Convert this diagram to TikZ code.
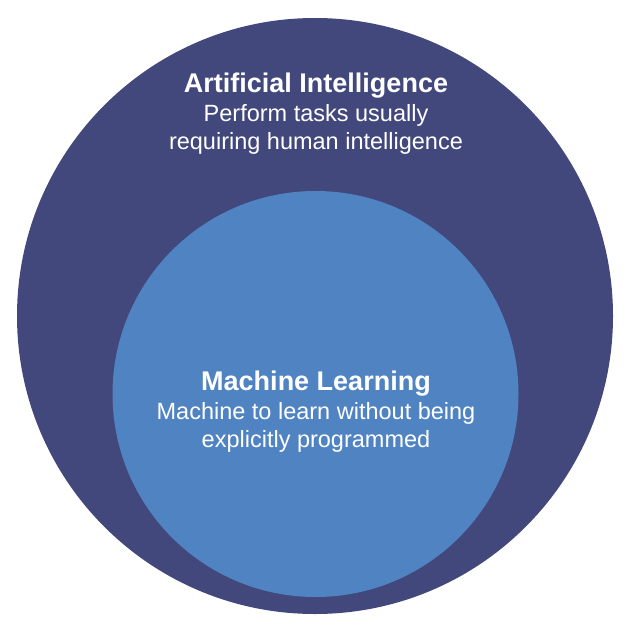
\documentclass[tikz,border=0pt]{standalone}
\usepackage{fontspec}
\setmainfont{Liberation Sans}
\usepackage{xcolor}
\usetikzlibrary{positioning}

\definecolor{aicolor}{RGB}{66,72,124}
\definecolor{mlcolor}{RGB}{80,131,194}

\begin{document}
\begin{tikzpicture}[
    x=1pt, y=-1pt,
    disc/.style={circle, draw=none, inner sep=0pt},
    title/.style={text=white, font=\fontsize{27}{30}\selectfont\bfseries, align=center, inner sep=0pt},
    desc/.style={text=white, font=\fontsize{23.5}{28}\selectfont, align=center, inner sep=0pt}
]
\useasboundingbox (0,0) rectangle (632,634);
\node[disc, fill=aicolor, minimum size=596pt] (ai) at (315,316) {};
\node[disc, fill=mlcolor, minimum size=406pt] (ml) at (315.5,394) {};

\node[title] (aititle) at (316,86) {Artificial Intelligence};
\node[desc, below=5pt of aititle] (aidesc) {Perform tasks usually\\requiring human intelligence};

\node[title] (mltitle) at (316,384) {Machine Learning};
\node[desc, below=5pt of mltitle] (mldesc) {Machine to learn without being\\explicitly programmed};
\end{tikzpicture}
\end{document}
